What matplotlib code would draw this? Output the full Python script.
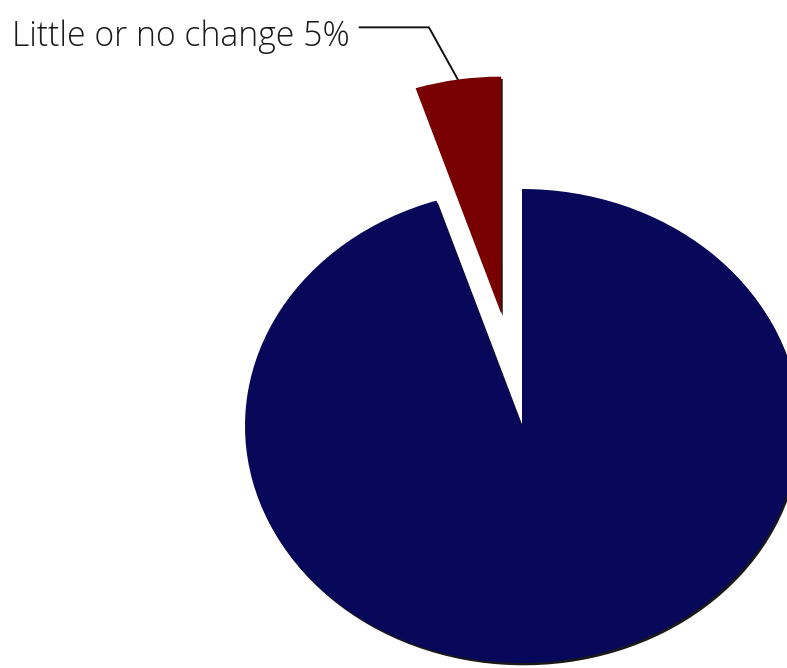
import numpy as np
import matplotlib
matplotlib.use("Agg")
import matplotlib.pyplot as plt

# Data
labels = ["Little or no change", "Other"]
values = [5, 95]
colors = ["#780000", "#08085a"]
explode = [0.48, 0.0]

W, H = 787, 668
fig = plt.figure(figsize=(W / 100, H / 100), dpi=100)
ax = fig.add_axes([0, 0, 1, 1])

# pixel geometry of pie: centre and radii
cx, cy, rx, ry = 522, 426, 277, 237

wedges, _ = ax.pie(values, colors=colors, explode=explode, startangle=90,
                   radius=1.0, center=(0, 0), frame=True,
                   shadow={'ox': 0.004, 'oy': -0.007, 'shade': 1.0, 'alpha': 0.9},
                   wedgeprops=dict(linewidth=0))

ax.set_xlim(-cx / rx, (W - cx) / rx)
ax.set_ylim(cy / ry - H / ry, cy / ry)
ax.set_aspect('auto')
ax.axis('off')

# leader line to the middle of the small slice
w = wedges[0]
mid = np.deg2rad((w.theta1 + w.theta2) / 2)
px, py = w.center[0] + np.cos(mid) * w.r, w.center[1] + np.sin(mid) * w.r

ax.annotate(f"{labels[0]} {values[0]}%", xy=(px, py),
            xytext=(12, H - 37), textcoords='figure pixels',
            ha='left', va='center', fontsize=24.3, family=['Open Sans', 'DejaVu Sans'],
            fontweight='light', color='#1a1a1a',
            arrowprops=dict(arrowstyle='-', color='#111111', lw=1.4,
                            relpos=(1.0, 0.78), shrinkA=5, shrinkB=0,
                            connectionstyle='angle,angleA=0,angleB=-61,rad=0'))

fig.savefig("out.png", dpi=100, facecolor='white')
